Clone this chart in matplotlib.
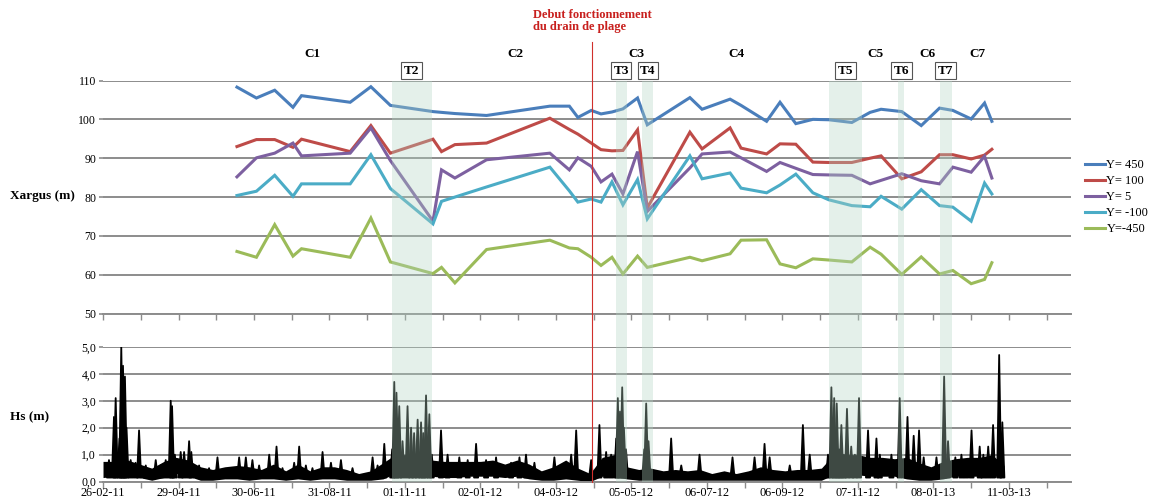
import numpy as np
import pandas as pd
import matplotlib
matplotlib.use("Agg")
from matplotlib import pyplot as plt
from matplotlib import dates as mdates
from matplotlib.patches import Rectangle
from matplotlib.lines import Line2D
from matplotlib.transforms import blended_transform_factory
from matplotlib.ticker import FuncFormatter

plt.rcParams['font.family'] = ['Liberation Serif', 'DejaVu Serif']

# =============================================================================
#         Levés de profils (position du trait de côte, m)
# =============================================================================
dates_leves = ['16-06-11', '02-07-11', '17-07-11', '01-08-11', '08-08-11', '17-09-11',
               '04-10-11', '20-10-11', '24-11-11', '01-12-11', '12-12-11', '07-01-12',
               '28-02-12', '15-03-12', '22-03-12', '02-04-12', '10-04-12', '19-04-12',
               '28-04-12', '10-05-12', '18-05-12', '22-06-12', '02-07-12', '25-07-12',
               '03-08-12', '24-08-12', '04-09-12', '17-09-12', '01-10-12', '14-10-12',
               '02-11-12', '17-11-12', '26-11-12', '13-12-12', '29-12-12', '13-01-13',
               '24-01-13', '08-02-13', '19-02-13', '25-02-13']

y_450 = [108.3, 105.5, 107.5, 103.1, 106.1, 104.4, 108.4, 103.6, 102.0, 101.8,
         101.5, 101.0, 103.4, 103.4, 100.5, 102.3, 101.4, 101.9, 102.7, 105.5,
         98.6, 105.6, 102.6, 105.2, 103.6, 99.5, 104.4, 98.9, 100.0, 99.9,
         99.2, 101.8, 102.6, 102.0, 98.4, 102.9, 102.3, 100.1, 104.2, 99.5]
y_100 = [93.0, 94.8, 94.8, 92.8, 94.9, 91.7, 98.4, 91.3, 94.9, 91.7,
         93.5, 93.9, 100.3, 97.4, 96.2, 93.9, 92.2, 91.9, 92.0, 97.3,
         77.2, 96.7, 92.4, 97.8, 92.6, 91.1, 93.7, 93.6, 89.0, 88.9,
         88.9, 90.0, 90.6, 84.7, 86.5, 90.9, 90.9, 89.8, 90.8, 92.3]
y_5 = [85.2, 90.1, 91.3, 93.9, 90.6, 91.3, 97.8, 89.4, 73.8, 87.0,
       84.9, 89.6, 91.3, 87.0, 90.1, 87.9, 83.9, 85.9, 80.8, 91.7,
       76.3, 87.5, 91.1, 91.6, 90.1, 86.6, 88.9, 87.4, 85.8, 85.7,
       85.6, 83.4, 84.3, 86.0, 84.2, 83.4, 87.7, 86.4, 90.5, 84.9]
y_m100 = [80.4, 81.5, 85.6, 80.2, 83.4, 83.4, 90.9, 82.2, 73.1, 78.9,
          80.0, 82.6, 87.7, 81.6, 78.7, 79.5, 78.7, 83.9, 78.0, 84.5,
          74.4, 90.6, 84.7, 86.2, 82.3, 81.1, 83.1, 85.9, 81.1, 79.3,
          77.8, 77.5, 80.2, 76.9, 81.9, 77.8, 77.4, 73.8, 83.6, 80.8]
y_m450 = [66.0, 64.5, 72.9, 64.8, 66.7, 64.5, 74.6, 63.3, 60.3, 61.9,
          57.9, 66.5, 68.9, 66.9, 66.7, 64.5, 62.4, 64.5, 60.2, 64.8,
          61.9, 64.5, 63.6, 65.4, 68.9, 69.0, 62.8, 61.8, 64.1, 63.8,
          63.3, 67.1, 65.3, 60.1, 64.6, 60.2, 61.1, 57.7, 58.8, 63.1]

profils = ['Y= 450', 'Y= 100', 'Y= 5', 'Y= -100', 'Y=-450']
couleurs = ['#4a7ebb', '#be4b48', '#7d60a0', '#4bacc6', '#9bbb59']

# =============================================================================
#         Hauteur significative Hs (m) : bande de fond (pas de 10 jours) et pics
# =============================================================================
hs_debut = '26-02-11'
hs_pas = 10
hs_bas = [0.15, 0.2, 0.2, 0.15, 0.05, 0.15, 0.3, 0.2, 0.05, 0.05,
          0.1, 0.1, 0.05, 0.1, 0.1, 0.05, 0.1, 0.05, 0.1, 0.1,
          0.05, 0.05, 0.05, 0.1, 0.3, 0.3, 0.3, 0.2, 0.15, 0.15,
          0.2, 0.2, 0.2, 0.15, 0.2, 0.1, 0.05, 0.05, 0.1, 0.05,
          0.0, 0.2, 0.2, 0.1, 0.05, 0.05, 0.05, 0.05, 0.05, 0.05,
          0.05, 0.05, 0.05, 0.05, 0.05, 0.05, 0.05, 0.05, 0.05, 0.05,
          0.25, 0.25, 0.25, 0.2, 0.2, 0.2, 0.1, 0.05, 0.05, 0.1,
          0.2, 0.2, 0.2, 0.15, 0.3]
hs_haut = [0.75, 0.75, 0.8, 0.65, 0.5, 0.75, 0.9, 0.8, 0.55, 0.45,
           0.55, 0.6, 0.55, 0.45, 0.65, 0.4, 0.65, 0.4, 0.55, 0.55,
           0.45, 0.3, 0.4, 0.7, 1.0, 1.0, 0.9, 0.8, 0.75, 0.75,
           0.75, 0.75, 0.8, 0.65, 0.8, 0.65, 0.4, 0.55, 0.8, 0.5,
           0.3, 0.9, 1.0, 0.55, 0.45, 0.5, 0.4, 0.45, 0.4, 0.45,
           0.3, 0.4, 0.3, 0.4, 0.55, 0.45, 0.4, 0.45, 0.45, 0.5,
           1.0, 1.0, 1.0, 0.9, 0.9, 0.85, 0.9, 0.7, 0.55, 0.75,
           0.85, 0.9, 0.9, 1.0, 0.6]

# pics : jour depuis hs_debut, Hs max
pics_jour = [4.9, 9, 10.4, 13.5, 15, 16.4, 18, 19.3, 22.7, 26.8, 29.6, 35.1, 43.3,
             47.4, 51.5, 55.6, 56.7, 59, 63.8, 66.6, 70.7, 72.5, 78.9, 87.1, 94,
             103.6, 111.8, 117.3, 122.7, 128.2, 136.5, 142.5, 147.4, 157, 161.1,
             166.6, 172, 180.3, 187.2, 195.4, 204.9, 221.4, 225.5, 231, 237.5,
             239.2, 241, 243.3, 246, 250.1, 253, 255.5, 258.4, 261.2, 263, 265.3,
             268, 270, 277.6, 283, 292.6, 299.5, 306.4, 314.6, 322.8, 335.1, 342,
             347.4, 354.3, 370.7, 377.6, 384.5, 388.6, 400.9, 407.7, 413.2, 417.3,
             421.5, 422.8, 424.6, 426.4, 427.8, 429.5, 444.5, 446.1, 448, 466.6,
             474.9, 489.9, 517, 535.1, 543.3, 547.5, 564, 574.8, 580.4, 595.4,
             598.2, 600.5, 602.6, 604.5, 606.4, 608.5, 611, 614.5, 617.5, 620.9,
             628.3, 635.2, 638, 647.5, 654.3, 660.7, 665.8, 670.2, 674, 684.5,
             690.8, 694, 700, 705, 709, 713.3, 720, 723, 727, 731, 736, 738.6]
pics_hs = [0.8, 2.4, 3.1, 1.6, 5.0, 4.3, 3.9, 2.0, 0.8, 0.7, 1.9, 0.6, 0.8,
           0.6, 0.8, 3.0, 2.8, 1.0, 1.1, 1.1, 1.5, 1.1, 0.6, 0.5, 0.9,
           0.5, 0.9, 0.9, 0.8, 0.6, 1.0, 1.3, 0.5, 0.7, 1.3,
           0.6, 0.5, 1.1, 0.7, 0.8, 0.5, 0.9, 0.6, 1.4, 1.2,
           3.7, 3.3, 2.8, 1.5, 2.8, 2.0, 1.8, 2.3, 2.2, 1.8, 3.2,
           2.5, 1.0, 1.9, 1.0, 0.9, 0.8, 1.4, 0.8, 0.9, 0.7, 0.9,
           1.0, 0.7, 0.9, 0.6, 1.0, 1.9, 0.8, 2.1, 1.1, 1.0,
           1.6, 3.1, 2.6, 3.5, 2.0, 1.2, 1.2, 2.9, 1.5, 1.6,
           0.6, 1.0, 0.9, 0.9, 1.4, 0.9, 0.6, 2.1, 1.0, 1.0,
           3.5, 3.1, 2.9, 1.2, 2.1, 1.0, 2.7, 1.3, 1.0, 3.1,
           1.9, 1.6, 1.0, 1.0, 3.1, 2.4, 1.7, 1.9, 0.9, 0.9,
           3.9, 1.5, 0.9, 1.0, 0.8, 1.9, 1.3, 1.0, 1.3, 2.1, 4.7, 2.2]

# tempêtes et campagnes
tempetes = ['T2', 'T3', 'T4', 'T5', 'T6', 'T7']
tempetes_debut = ['21-10-11', '22-04-12', '14-05-12', '14-10-12', '10-12-12', '13-01-13']
tempetes_fin = ['23-11-11', '01-05-12', '23-05-12', '10-11-12', '15-12-12', '23-01-13']
campagnes = ['C1', 'C2', 'C3', 'C4', 'C5', 'C6', 'C7']
campagnes_pos = ['17-08-11', '31-01-12', '09-05-12', '30-07-12', '21-11-12', '03-01-13', '13-02-13']
date_drain = '03-04-12'


def en_num(liste):
    return mdates.date2num(pd.to_datetime(liste, format='%d-%m-%y').to_pydatetime())


debut = pd.to_datetime(hs_debut, format='%d-%m-%y')
x_min = mdates.date2num(debut)
x_max = x_min + 795
gris = '#8c8c8c'

fig = plt.figure(figsize=(11.51, 4.97), dpi=100)
ax1 = fig.add_axes([0.0895, 0.369, 0.841, 0.469])
ax2 = fig.add_axes([0.0895, 0.031, 0.841, 0.271])

# --- profils ---
x_leves = en_num(dates_leves)
for serie, nom, c in zip([y_450, y_100, y_5, y_m100, y_m450], profils, couleurs):
    ax1.plot(x_leves, serie, color=c, lw=2.2, label=nom, solid_joinstyle='miter')
ax1.set_ylim(50, 110)
ax1.set_yticks(np.arange(50, 111, 10))

# --- Hs : bande de fond + pics ---
x_bande = x_min + np.arange(len(hs_bas)) * hs_pas
ax2.fill_between(x_bande, hs_bas, hs_haut, color='black', lw=0)
demi = 1.7
for j, h in zip(pics_jour, pics_hs):
    ax2.fill([x_min + j - demi, x_min + j, x_min + j + demi], [0.15, h, 0.15],
             facecolor='black', edgecolor='black', lw=1.3, joinstyle='round')
ax2.set_ylim(0, 5)
ax2.set_yticks(np.arange(0, 6, 1))
ax2.yaxis.set_major_formatter(FuncFormatter(lambda v, p: ('%.1f' % v).replace('.', ',')))

majeurs = x_min + np.arange(0, 796, 62)
mineurs = x_min + np.arange(31, 796, 62)
for ax in (ax1, ax2):
    ax.set_xlim(x_min, x_max)
    for s in ax.spines.values():
        s.set_visible(False)
    ax.grid(axis='y', color=gris, lw=1.4)
    ax.set_axisbelow(True)
    ax.set_xticks(majeurs)
    ax.set_xticks(mineurs, minor=True)
    ax.tick_params(axis='x', which='both', direction='out', length=4, color=gris, width=1)
    ax.tick_params(axis='y', length=3, color=gris, width=1.2, labelsize=8.5, pad=2)
    ax.spines['bottom'].set_visible(True)
    ax.spines['bottom'].set_color(gris)
    ax.spines['bottom'].set_linewidth(1.4)
ax1.set_xticklabels([])
ax2.set_xticklabels([mdates.num2date(v).strftime('%d-%m-%y') for v in majeurs], fontsize=8.8)
ax2.tick_params(axis='x', pad=0)

# --- bandes des tempêtes, par-dessus les deux graphes ---
trans = blended_transform_factory(ax1.transData, fig.transFigure)
y_bas, y_haut = 0.031, 0.838
for nom, d0, d1 in zip(tempetes, en_num(tempetes_debut), en_num(tempetes_fin)):
    fig.add_artist(Rectangle((d0, y_bas), d1 - d0, y_haut - y_bas, transform=trans,
                             facecolor='#b2d4c3', edgecolor='none', alpha=0.35, zorder=5))
    fig.text((d0 + d1) / 2, 0.858, nom, transform=trans, ha='center', va='center',
             fontsize=9.5, fontweight='bold',
             bbox=dict(boxstyle='square,pad=0.2', fc='white', ec='#555555', lw=0.8))

for nom, d in zip(campagnes, en_num(campagnes_pos)):
    fig.text(d, 0.892, nom, transform=trans, ha='center', va='center',
             fontsize=9.5, fontweight='bold')

# --- mise en service du drain ---
x_drain = en_num([date_drain])[0]
fig.add_artist(Line2D([x_drain, x_drain], [0.030, 0.915], transform=trans,
                      color='#d0302c', lw=0.8, zorder=6))
fig.text(0.463, 0.958, 'Debut fonctionnement\ndu drain de plage', color='#c8201e',
         fontsize=9, fontweight='bold', ha='left', va='center', linespacing=1.05)

fig.text(10 / 1151, 1 - 196 / 497, 'Xargus (m)', fontsize=9.5, fontweight='bold',
         ha='left', va='center')
fig.text(10 / 1151, 1 - 417 / 497, 'Hs (m)', fontsize=9.5, fontweight='bold',
         ha='left', va='center')

fig.legend(*ax1.get_legend_handles_labels(), loc='upper left',
           bbox_to_anchor=(1079 / 1151, 1 - 153 / 497), frameon=False, fontsize=9,
           handlelength=1.6, handletextpad=0.1, labelspacing=0.32, borderpad=0)

fig.savefig('out.png', dpi=100)
